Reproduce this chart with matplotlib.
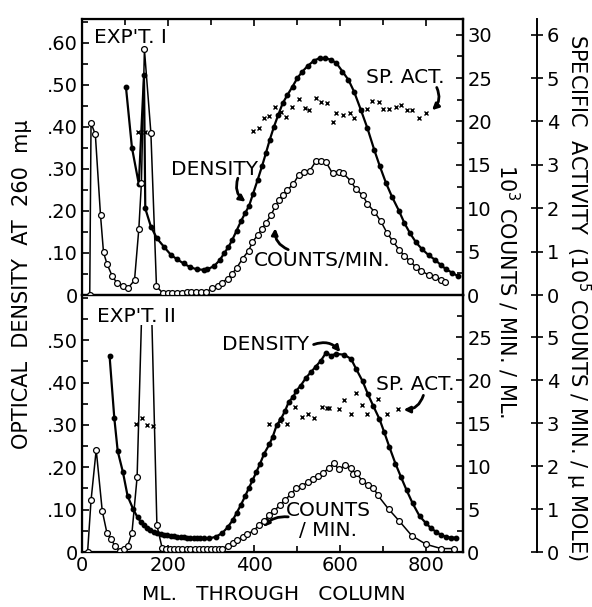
import matplotlib
matplotlib.use('Agg')
import matplotlib.pyplot as plt
from matplotlib.patches import Rectangle
from matplotlib.ticker import MultipleLocator, FuncFormatter

# ---- Expt I (top panel) ----
# density, optical density at 260 mu
d1_x = [102, 116, 132, 144, 147, 160, 174, 191, 207, 221, 236, 252, 267, 283, 291, 307, 320, 330, 340, 349,
        359, 369, 379, 388, 397, 408, 418, 427, 436, 446, 456, 466, 477, 489, 500, 512, 524, 539, 552, 565,
        578, 591, 605, 619, 632, 648, 663, 679, 692, 706, 720, 736, 749, 762, 776, 790, 805, 821, 834, 846,
        860, 873]
d1_y = [0.496, 0.351, 0.264, 0.524, 0.206, 0.163, 0.135, 0.114, 0.095, 0.085, 0.075, 0.066, 0.061, 0.060, 0.061,
        0.069, 0.083, 0.099, 0.114, 0.131, 0.153, 0.175, 0.195, 0.212, 0.240, 0.274, 0.306, 0.337, 0.369, 0.401,
        0.429, 0.456, 0.476, 0.496, 0.516, 0.532, 0.545, 0.558, 0.564, 0.564, 0.560, 0.552, 0.532, 0.512, 0.484,
        0.440, 0.397, 0.345, 0.306, 0.267, 0.234, 0.201, 0.171, 0.147, 0.125, 0.109, 0.095, 0.083, 0.071, 0.061,
        0.053, 0.045]
# counts/min, 10^3 counts/min/ml
c1_x = [18, 21, 31, 43, 50, 58, 70, 81, 95, 107, 122, 132, 138, 145, 160, 173, 188, 199, 210, 221,
        232, 243, 254, 265, 276, 287, 303, 315, 325, 338, 348, 359, 373, 387, 396, 408, 418, 427, 439, 449,
        458, 466, 477, 491, 503, 516, 529, 543, 555, 567, 582, 596, 607, 625, 636, 652, 663, 679, 694, 708,
        722, 737, 749, 762, 776, 788, 805, 821, 834, 844]
c1_y = [0, 19.8, 18.5, 9.2, 4.9, 3.6, 2.2, 1.4, 1.0, 0.8, 1.7, 7.6, 12.9, 28.3, 18.7, 1.0, 0.2, 0.2, 0.2, 0.2,
        0.2, 0.3, 0.3, 0.3, 0.3, 0.3, 0.8, 1.0, 1.4, 1.9, 2.4, 3.1, 4.2, 5.1, 6.1, 6.9, 7.6, 8.3, 9.2, 10.2,
        11.0, 11.5, 12.1, 12.8, 13.8, 14.2, 14.3, 15.4, 15.4, 15.3, 14.0, 14.2, 14.0, 13.1, 12.2, 11.5, 10.5, 9.6, 8.5, 7.2,
        6.2, 5.2, 4.5, 3.9, 3.2, 2.8, 2.3, 2.1, 1.7, 1.5]
# specific activity, 10^5 counts/min/umole
s1_x = [129, 147, 397, 410, 423, 435, 449, 462, 475, 487, 503, 518, 528, 543, 555, 568, 582, 589, 607, 622,
        632, 648, 661, 673, 689, 700, 713, 729, 740, 754, 767, 782, 799]
s1_y = [3.76, 3.76, 3.78, 3.85, 4.07, 4.13, 4.34, 4.21, 4.11, 4.34, 4.52, 4.32, 4.26, 4.53, 4.44, 4.42, 3.99, 4.19, 4.15, 4.19,
        4.09, 4.26, 4.29, 4.47, 4.44, 4.29, 4.29, 4.34, 4.37, 4.26, 4.26, 4.09, 4.19]

# ---- Expt II (bottom panel) ----
d2_x = [64, 75, 83, 95, 106, 119, 129, 136, 143, 150, 158, 167, 175, 183, 190, 198, 206, 214, 221, 229,
        237, 244, 252, 260, 268, 275, 283, 295, 311, 326, 338, 350, 359, 369, 379, 388, 396, 405, 413, 423,
        435, 443, 452, 462, 472, 480, 491, 498, 508, 520, 531, 543, 555, 567, 578, 590, 609, 625, 637, 652,
        664, 677, 691, 702, 714, 728, 741, 754, 768, 784, 799, 811, 822, 834, 846, 857, 869]
d2_y = [0.464, 0.317, 0.238, 0.189, 0.132, 0.101, 0.082, 0.072, 0.064, 0.057, 0.052, 0.048, 0.045, 0.042, 0.040,
        0.039, 0.038, 0.037, 0.036, 0.035, 0.035, 0.034, 0.034, 0.033, 0.033, 0.032, 0.032, 0.032, 0.036, 0.045,
        0.058, 0.075, 0.092, 0.111, 0.132, 0.152, 0.169, 0.189, 0.207, 0.232, 0.254, 0.272, 0.299, 0.314, 0.334,
        0.354, 0.367, 0.381, 0.393, 0.411, 0.424, 0.438, 0.452, 0.471, 0.464, 0.468, 0.466, 0.456, 0.432, 0.403,
        0.373, 0.344, 0.314, 0.283, 0.248, 0.209, 0.177, 0.146, 0.115, 0.085, 0.068, 0.056, 0.048, 0.040, 0.036,
        0.034, 0.034]
c2_x = [13, 21, 33, 47, 58, 67, 77, 88, 97, 106, 116, 128, 151, 174, 186, 195, 205, 214, 224, 233,
        243, 252, 262, 271, 281, 290, 300, 309, 318, 326, 338, 350, 361, 373, 384, 400, 411, 423, 435, 447,
        460, 472, 485, 498, 511, 524, 537, 549, 560, 574, 586, 596, 612, 625, 630, 638, 650, 665, 677, 687,
        712, 737, 766, 799, 834, 863]
c2_y = [0, 6.0, 11.9, 4.8, 2.2, 1.5, 0.7, 0.1, 0.3, 0.7, 2.2, 8.7, 50, 3.1, 0.5, 0.3, 0.3, 0.3, 0.3, 0.3,
        0.3, 0.3, 0.3, 0.3, 0.3, 0.3, 0.3, 0.3, 0.3, 0.4, 0.7, 1.0, 1.4, 1.7, 2.1, 2.5, 3.2, 3.6, 4.3, 4.8,
        5.5, 6.1, 6.7, 7.5, 7.7, 8.1, 8.5, 8.8, 9.2, 9.8, 10.3, 9.6, 10.1, 9.8, 9.1, 9.2, 8.3, 7.8, 7.5, 6.6,
        5.0, 3.6, 1.9, 0.9, 0.4, 0.4]
s2_x = [126, 140, 151, 165, 435, 460, 477, 495, 512, 524, 540, 557, 570, 574, 597, 609, 625, 636, 650, 663,
        687, 708, 733]
s2_y = [2.97, 3.11, 2.95, 2.93, 2.98, 3.05, 2.97, 3.37, 3.14, 3.20, 3.12, 3.37, 3.34, 3.36, 3.32, 3.53, 3.22, 3.70, 3.43, 3.22,
        3.55, 3.20, 3.32]

plt.rcParams['font.family'] = ['DejaVu Sans']
FS = 14      # tick labels
FT = 14.5    # labels inside the plot

fig = plt.figure(figsize=(5.92, 6.07), dpi=100)
ax1 = fig.add_axes([0.1385, 0.514, 0.6436, 0.4547])
ax2 = fig.add_axes([0.1385, 0.0906, 0.6436, 0.4234])


def od_fmt(v, pos):
    if abs(v) < 1e-9:
        return '0'
    return ('%.2f' % v).lstrip('0')


def setup(ax, ytop, ctop, stop, nod, nc, ns, show_x):
    ax.set_xlim(0, 885)
    ax.set_ylim(0, ytop)
    for s in ax.spines.values():
        s.set_linewidth(1.6)
    ax.xaxis.set_major_locator(MultipleLocator(200))
    ax.xaxis.set_minor_locator(MultipleLocator(100))
    ax.set_yticks([i / 10 for i in range(nod + 1)])
    ax.yaxis.set_minor_locator(MultipleLocator(0.05))
    ax.yaxis.set_major_formatter(FuncFormatter(od_fmt))
    ax.tick_params(which='both', direction='in', top=True, width=1.2, labelsize=FS, pad=3)
    ax.tick_params(which='major', length=5)
    ax.tick_params(which='minor', length=4)
    if not show_x:
        ax.tick_params(labelbottom=False, bottom=False, which='both')
    else:
        ax.tick_params(top=False, which='both')

    axc = ax.twinx()
    axc.set_ylim(0, ctop)
    axc.set_yticks([5 * i for i in range(nc + 1)])
    axc.yaxis.set_minor_locator(MultipleLocator(2.5))
    axc.tick_params(which='both', direction='in', width=1.2, labelsize=FS, pad=3)
    axc.tick_params(which='major', length=5)
    axc.tick_params(which='minor', length=4)
    axc.spines['right'].set_linewidth(1.6)

    axs = ax.twinx()
    axs.set_ylim(0, stop)
    for k in ['left', 'top', 'bottom']:
        axs.spines[k].set_visible(False)
    axs.spines['right'].set_position(('axes', 1.194))
    axs.spines['right'].set_linewidth(1.4)
    axs.set_yticks(list(range(ns + 1)))
    axs.tick_params(direction='inout', length=8, width=1.2, labelsize=FS, pad=3)
    return axc, axs


ax1c, ax1s = setup(ax1, 0.657, 31.8, 6.36, 6, 6, 6, False)
ax2c, ax2s = setup(ax2, 0.607, 29.9, 5.98, 5, 5, 5, True)

# density: filled circles
ax1.plot(d1_x, d1_y, '-o', color='k', lw=1.6, ms=3.2, mfc='k', mec='k')
ax2.plot(d2_x, d2_y, '-o', color='k', lw=1.6, ms=3.2, mfc='k', mec='k')
# counts: open circles
ax1c.plot(c1_x, c1_y, '-o', color='k', lw=1.1, ms=4.2, mfc='white', mec='k', mew=0.9)
line2, = ax2c.plot(c2_x, c2_y, '-o', color='k', lw=1.1, ms=4.2, mfc='white', mec='k', mew=0.9)
line2.set_clip_path(Rectangle((0, 0), 885, 26.4, transform=ax2c.transData))
# specific activity: x marks
ax1s.plot(s1_x, s1_y, 'x', color='k', ms=3.5, mew=1.0)
ax2s.plot(s2_x, s2_y, 'x', color='k', ms=3.5, mew=1.0)

ax2.set_xticks([0, 200, 400, 600, 800])

# panel annotations
txt = dict(fontsize=FT, color='k')
ax1.text(28, 0.612, "EXP'T. I", va='center', ha='left', **txt)
ax2.text(35, 0.556, "EXP'T. II", va='center', ha='left', **txt)

arw = dict(arrowstyle='-|>', color='k', lw=2.0, mutation_scale=9, shrinkA=0, shrinkB=0)
ax1.text(207, 0.299, 'DENSITY', va='center', ha='left', **txt)
ax1.annotate('', xy=(380, 0.222), xytext=(362, 0.278),
             arrowprops=dict(connectionstyle='arc3,rad=0.35', **arw))
ax1.text(400, 0.083, 'COUNTS/MIN.', va='center', ha='left', **txt)
ax1.annotate('', xy=(449, 0.159), xytext=(479, 0.108),
             arrowprops=dict(connectionstyle='arc3,rad=-0.35', **arw))
ax1.text(660, 0.518, 'SP. ACT.', va='center', ha='left', **txt)
ax1.annotate('', xy=(813, 0.44), xytext=(824, 0.494),
             arrowprops=dict(connectionstyle='arc3,rad=-0.35', **arw))

ax2.text(325, 0.489, 'DENSITY', va='center', ha='left', **txt)
ax2.annotate('', xy=(600, 0.472), xytext=(538, 0.490),
             arrowprops=dict(connectionstyle='arc3,rad=-0.35', **arw))
ax2.text(684, 0.396, 'SP. ACT.', va='center', ha='left', **txt)
ax2.annotate('', xy=(747, 0.336), xytext=(793, 0.370),
             arrowprops=dict(connectionstyle='arc3,rad=-0.35', **arw))
ax2.text(572, 0.075, 'COUNTS\n/ MIN.', va='center', ha='center', linespacing=1.05, **txt)
ax2.annotate('', xy=(421, 0.059), xytext=(479, 0.083),
             arrowprops=dict(connectionstyle='arc3,rad=0.25', **arw))

# axis titles
fig.text(22 / 592, 1 - 284 / 607, u'OPTICAL  DENSITY  AT  260  m\u03bc', rotation=90,
         va='center', ha='center', fontsize=15)
fig.text(508 / 592, 1 - 291 / 607, r'10$^3$ COUNTS / MIN. / ML.', rotation=270,
         va='center', ha='center', fontsize=15)
fig.text(578 / 592, 1 - 297 / 607, u'SPECIFIC  ACTIVITY  (10$^5$ COUNTS / MIN. / \u03bc MOLE)', rotation=270,
         va='center', ha='center', fontsize=15)
fig.text(274 / 592, 1 - 595 / 607, 'ML.   THROUGH   COLUMN', va='center', ha='center', fontsize=14.5)

fig.savefig('out.png', dpi=100)
